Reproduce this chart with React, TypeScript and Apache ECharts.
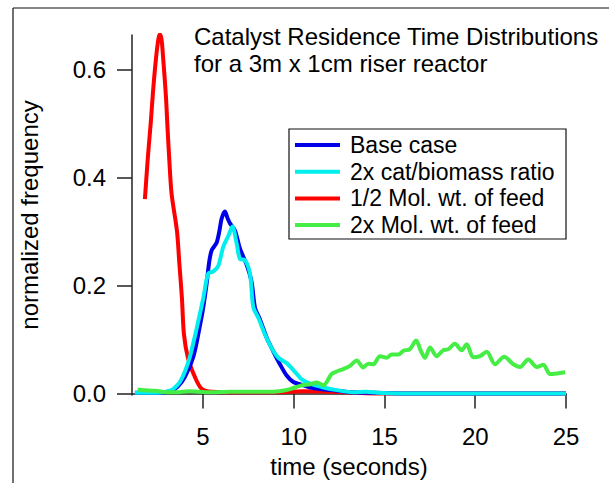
import React, { useEffect, useRef } from 'react';
import * as echarts from 'echarts';

const xTicks = [5, 10, 15, 20, 25];
const yTicks = [0, 0.2, 0.4, 0.6];
const seriesNames = ['Base case', '2x cat/biomass ratio', '1/2 Mol. wt. of feed', '2x Mol. wt. of feed'];
const seriesColors = ['#0000e8', '#00eeee', '#ff0000', '#44ee44'];

const baseCase: [number, number][] = [
  [1.25, 0.001], [2.5, 0.001], [3.2, 0.004], [3.6, 0.012], [4.0, 0.03], [4.47, 0.068], [4.83, 0.125],
  [5.02, 0.16], [5.2, 0.203], [5.35, 0.245], [5.48, 0.265], [5.75, 0.279], [5.9, 0.3], [6.03, 0.324],
  [6.21, 0.337], [6.35, 0.325], [6.49, 0.315], [6.76, 0.302], [7.04, 0.268], [7.41, 0.238], [7.68, 0.206],
  [7.87, 0.158], [8.14, 0.137], [8.51, 0.103], [8.87, 0.078], [9.24, 0.054], [9.61, 0.033], [9.98, 0.021],
  [10.34, 0.017], [10.9, 0.011], [11.45, 0.008], [12.37, 0.005], [13.2, 0.002], [14.5, 0.001], [16, 0], [25, 0],
];

const catBiomass: [number, number][] = [
  [1.25, 0.001], [2.5, 0.001], [3.2, 0.005], [3.46, 0.011], [3.73, 0.021], [4.0, 0.04], [4.28, 0.068],
  [4.65, 0.12], [5.02, 0.177], [5.29, 0.222], [5.57, 0.226], [5.84, 0.236], [6.12, 0.272], [6.4, 0.292],
  [6.62, 0.309], [6.86, 0.277], [7.04, 0.249], [7.31, 0.247], [7.59, 0.222], [7.77, 0.16], [8.05, 0.14],
  [8.42, 0.109], [8.78, 0.084], [9.15, 0.066], [9.61, 0.056], [10.07, 0.04], [10.44, 0.026], [10.99, 0.017],
  [11.63, 0.011], [12.37, 0.006], [13.3, 0.002], [14, 0.003], [14.6, 0.001], [16, 0], [25, 0],
];

const halfMolWt: [number, number][] = [
  [1.8, 0.36], [1.97, 0.44], [2.12, 0.5], [2.25, 0.56], [2.41, 0.62], [2.55, 0.658], [2.63, 0.665],
  [2.72, 0.655], [2.82, 0.615], [2.96, 0.55], [3.05, 0.49], [3.15, 0.43], [3.27, 0.37], [3.57, 0.3],
  [3.7, 0.24], [3.84, 0.177], [3.95, 0.11], [4.17, 0.066], [4.56, 0.03], [4.94, 0.008], [5.5, 0.003],
  [7, 0.002], [9, 0.002], [10.5, 0.004], [12, 0.003], [13.5, 0.001], [14.5, 0], [25, 0],
];

const doubleMolWt: [number, number][] = [
  [1.4, 0.007], [1.8, 0.006], [2.2, 0.005], [2.6, 0.004], [3.0, 0.002], [3.5, 0.002], [4.2, 0.004],
  [4.8, 0.003], [5.5, 0.002], [6.5, 0.003], [7.5, 0.003], [8.5, 0.003], [9.2, 0.004], [9.8, 0.008],
  [10.34, 0.014], [10.9, 0.017], [11.27, 0.02], [11.63, 0.015], [12.09, 0.036], [12.4, 0.041],
  [12.73, 0.045], [13.1, 0.051], [13.47, 0.061], [13.83, 0.048], [14.11, 0.055], [14.39, 0.054],
  [14.75, 0.069], [15.12, 0.066], [15.4, 0.072], [15.76, 0.072], [16.04, 0.079], [16.4, 0.082],
  [16.74, 0.098], [17.0, 0.079], [17.23, 0.066], [17.51, 0.085], [17.87, 0.069], [18.24, 0.08],
  [18.52, 0.082], [18.88, 0.092], [19.25, 0.08], [19.53, 0.091], [19.89, 0.067], [20.26, 0.069],
  [20.63, 0.077], [21.09, 0.054], [21.59, 0.068], [22.1, 0.054], [22.47, 0.049], [22.92, 0.063],
  [23.39, 0.049], [23.75, 0.053], [24.12, 0.036], [24.49, 0.037], [24.95, 0.039],
];

const FONT = '"Liberation Sans", Arial, Helvetica, sans-serif';

export default function App() {
  const ref = useRef<HTMLDivElement>(null);
  useEffect(() => {
    document.body.style.margin = '0';
    const chart = echarts.init(ref.current!, null, { renderer: 'svg' });
    const mk = (i: number, data: [number, number][], z: number) => ({
      name: seriesNames[i],
      type: 'line',
      data,
      smooth: 0.3,
      symbol: 'none',
      z,
      color: seriesColors[i],
      lineStyle: { color: seriesColors[i], width: 4 },
      silent: true,
    });
    chart.setOption({
      animation: false,
      backgroundColor: '#fff',
      textStyle: { fontFamily: FONT },
      title: {
        text: 'Catalyst Residence Time Distributions\nfor a 3m x 1cm riser reactor',
        left: 194,
        top: 23,
        padding: 0,
        textStyle: { fontSize: 24, fontWeight: 'normal', color: '#000', lineHeight: 27, fontFamily: FONT },
      },
      grid: { left: 132, top: 35, right: 43, bottom: 84.5, containLabel: false },
      legend: {
        data: seriesNames,
        orient: 'vertical',
        left: 295,
        top: 132,
        padding: 0,
        itemWidth: 45,
        itemHeight: 4,
        itemGap: 0.7,
        icon: 'rect',
        selectedMode: false,
        textStyle: { fontSize: 23, color: '#000', lineHeight: 26, fontFamily: FONT, padding: [0, 0, 0, 5] },
      },
      xAxis: {
        type: 'value',
        min: 1.09,
        max: 25,
        name: 'time (seconds)',
        nameLocation: 'middle',
        nameGap: 59,
        nameTextStyle: { fontSize: 24, color: '#000', lineHeight: 24, fontFamily: FONT },
        axisLine: { lineStyle: { color: '#222', width: 1.5 } },
        axisTick: { customValues: xTicks, length: 15, lineStyle: { color: '#222', width: 1.5 } },
        axisLabel: { customValues: xTicks, margin: 29, fontSize: 24, color: '#000', lineHeight: 24, fontFamily: FONT },
        splitLine: { show: false },
      },
      yAxis: {
        type: 'value',
        min: -0.003,
        max: 0.664,
        name: 'normalized frequency',
        nameLocation: 'middle',
        nameGap: 91,
        nameRotate: 90,
        nameTextStyle: { fontSize: 24, color: '#000', lineHeight: 24, fontFamily: FONT },
        axisLine: { show: true, lineStyle: { color: '#222', width: 1.5 } },
        axisTick: { show: true, customValues: yTicks, length: 15, lineStyle: { color: '#222', width: 1.5 } },
        axisLabel: {
          customValues: yTicks,
          margin: 26,
          fontSize: 24,
          color: '#000',
          fontFamily: FONT,
          formatter: (v: number) => v.toFixed(1),
        },
        splitLine: { show: false },
      },
      graphic: [
        { type: 'line', shape: { x1: 13, y1: 8, x2: 13, y2: 483 }, style: { stroke: '#111', lineWidth: 1.2 } },
        { type: 'line', shape: { x1: 13, y1: 8, x2: 609, y2: 8 }, style: { stroke: '#111', lineWidth: 1.2 } },
        {
          type: 'rect',
          shape: { x: 289, y: 129, width: 277, height: 110 },
          style: { fill: 'none', stroke: '#111', lineWidth: 1.2 },
          z: 10,
        },
      ],
      series: [
        mk(2, halfMolWt, 2),
        mk(0, baseCase, 3),
        mk(1, catBiomass, 4),
        mk(3, doubleMolWt, 5),
      ],
    });
    return () => chart.dispose();
  }, []);
  return <div ref={ref} style={{ width: 609, height: 483 }} />;
}
